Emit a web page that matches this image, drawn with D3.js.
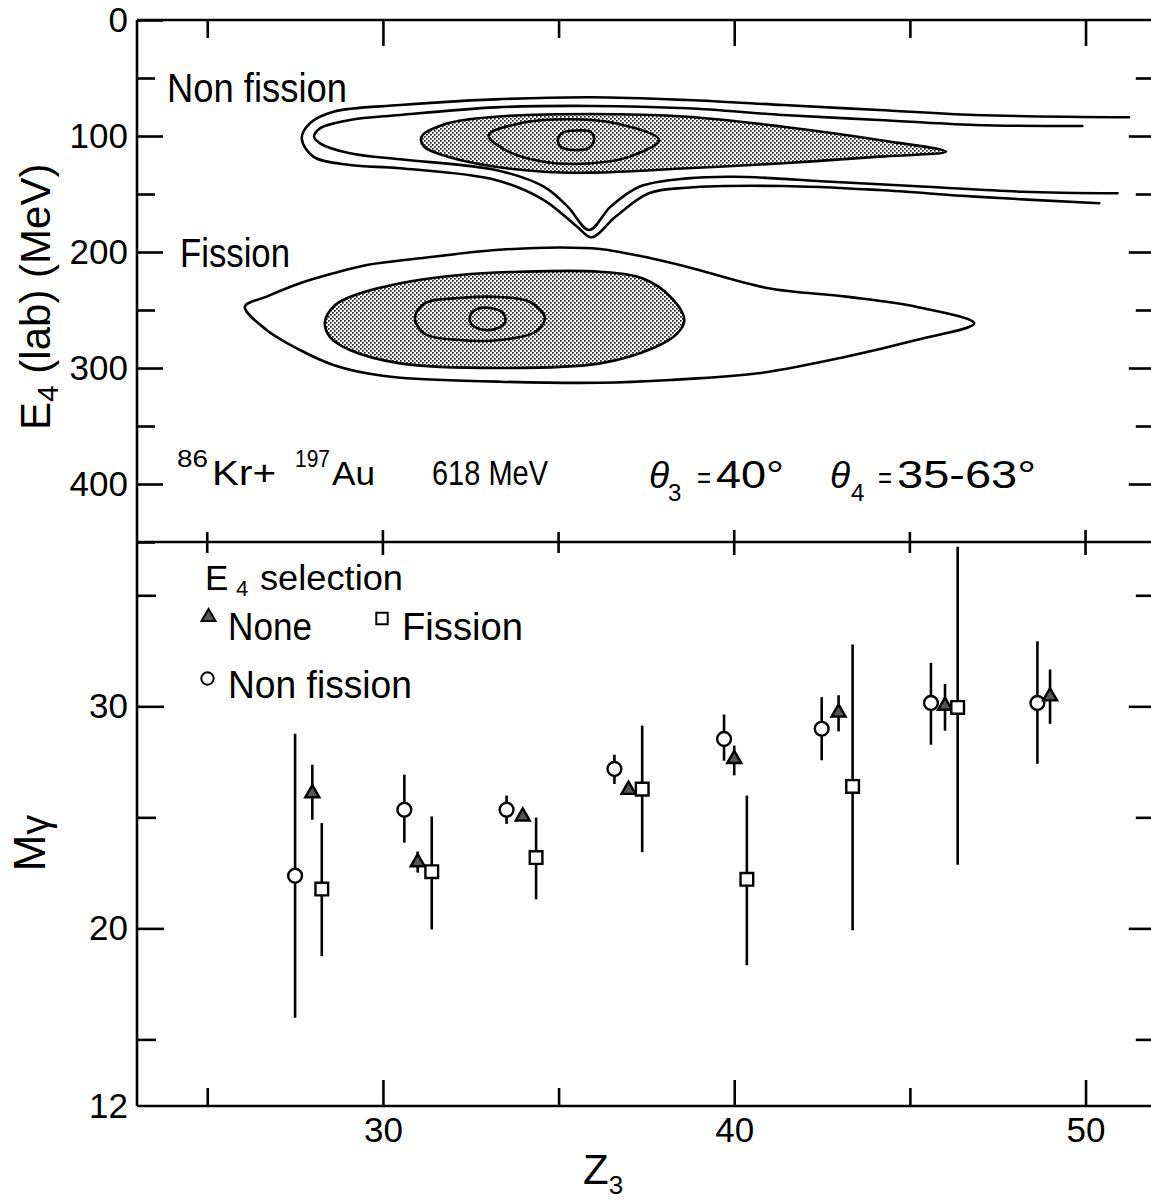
<!DOCTYPE html>
<html>
<head>
<meta charset="utf-8">
<script src="https://cdn.jsdelivr.net/npm/d3@7"></script>
<style>
  body { margin: 0; background: #fff; }
  svg text { font-family: "Liberation Sans", Arial, sans-serif; fill: #000; }
</style>
</head>
<body>
<svg id="chart" width="1151" height="1203"></svg>
<script>
// ---- upper panel: contour lines, points are [Z3, E4 (MeV)] ----
const nfOuter = [[51.24,83.9],[46.85,81.9],[44.12,77.6],[41.39,73.3],[38.67,69.0],[35.94,66.6],[33.21,68.4],[30.49,73.3],[28.59,79.1],[27.92,89.1],[27.69,102.0],[28.02,117.8],[29.06,125.0],[30.49,127.8],[33.21,137.9],[34.58,155.2],[35.53,178.2],[35.94,187.3],[36.62,169.6],[37.57,149.4],[38.66,144.6],[41.39,143.1],[44.12,146.6],[46.85,152.3],[50.39,158.0]];
const nfInner = [[49.91,91.4],[46.85,90.5],[44.12,86.2],[41.39,81.9],[38.67,76.1],[35.94,74.1],[33.21,75.3],[30.49,81.9],[29.06,86.2],[28.21,93.4],[28.04,100.6],[28.21,106.3],[29.06,114.9],[30.49,120.1],[33.21,129.3],[34.58,143.7],[35.26,160.9],[35.87,181.0],[36.48,160.9],[37.30,143.7],[38.66,136.5],[40.02,135.1],[42.76,139.4],[45.48,143.7],[48.21,148.0],[50.91,149.4]];
const nfShade = [[31.10,100.6],[31.85,89.1],[33.21,83.4],[35.94,81.0],[38.67,83.4],[41.39,92.0],[44.12,103.4],[46.03,113.5],[44.12,117.8],[41.39,123.5],[38.67,127.8],[35.94,131.6],[34.58,130.8],[33.21,126.5],[31.85,117.8],[31.17,109.2]];
const nfCore = [[33.01,99.1],[33.89,89.1],[35.26,85.6],[36.62,89.1],[37.86,103.4],[37.03,117.8],[35.94,123.5],[34.58,122.2],[33.49,112.1]];
const nfPeak = [[34.98,103.4],[35.10,97.4],[35.50,95.3],[35.92,96.6],[36.01,103.4],[35.87,110.3],[35.44,112.1],[35.07,109.5]];

const fOuter = [[26.07,247.2],[26.69,238.5],[27.64,227.0],[28.59,218.4],[29.54,211.2],[31.06,205.4],[33.21,198.3],[35.04,196.1],[36.18,197.4],[37.60,205.2],[38.67,212.9],[40.98,231.3],[43.18,238.5],[45.18,247.2],[46.83,261.5],[45.18,275.9],[43.18,290.3],[40.68,304.6],[38.18,310.3],[36.18,312.7],[33.33,311.8],[30.49,308.4],[29.54,304.6],[28.59,297.4],[27.64,284.5],[26.69,267.2]];
const fShade = [[28.35,260.1],[28.64,245.7],[29.06,238.8],[30.49,227.0],[32.19,219.8],[33.90,217.0],[36.18,217.0],[37.38,222.7],[38.18,238.5],[38.58,258.6],[38.38,270.1],[37.68,283.0],[36.18,296.0],[33.33,300.0],[30.49,296.0],[29.06,284.5],[28.49,273.3]];
const fCore = [[30.91,256.9],[31.20,244.0],[32.19,239.7],[33.33,238.8],[34.19,243.1],[34.61,256.9],[34.33,269.0],[33.33,275.9],[32.19,275.9],[31.20,270.7]];
const fPeak = [[32.48,255.2],[32.68,249.1],[33.05,248.3],[33.42,252.6],[33.48,260.3],[33.28,265.5],[32.91,267.2],[32.54,262.9]];

// ---- lower panel: gamma multiplicity, rows are [Z3, M, low, high] ----
const nonFissionPts = [[27.50,22.37,15.97,28.77],[30.61,25.34,23.86,26.92],[33.52,25.34,24.71,25.98],[36.59,27.18,26.50,27.82],[39.71,28.53,27.55,29.63],[42.49,28.99,27.57,30.41],[45.60,30.15,28.27,31.96],[48.63,30.15,27.41,32.93]];
const nonePts = [[27.99,26.09,24.89,27.37],[30.99,22.98,22.51,23.46],[33.98,25.04,25.04,25.04],[36.99,26.24,26.24,26.24],[40.00,27.63,26.89,28.23],[42.97,29.72,28.87,30.50],[46.00,30.03,28.90,31.01],[48.99,30.45,29.21,31.66]];
const fissionPts = [[28.26,21.77,18.75,24.74],[31.39,22.55,19.95,25.04],[34.36,23.19,21.31,24.99],[37.38,26.27,23.43,29.13],[40.36,22.21,18.34,25.98],[43.37,26.39,19.92,32.78],[46.36,29.95,22.86,37.19]];

// ticks
const xMajor = [30, 40, 50], xMinor = [25, 35, 45];
const eMajor = [0, 100, 200, 300, 400], eMinor = [50, 150, 250, 350, 450];
const mMajor = [12, 20, 30], mMinor = [15, 25, 35];

const svg = d3.select("#chart");
const pLeft = 137, pRight = 1155.8, pTop = 20, pMid = 542, pBottom = 1106;
const lw = 2.6;

const x = d3.scaleLinear().domain([23, 52]).range([pLeft, pRight]);
const yE = d3.scaleLinear().domain([0, 450]).range([pTop, pMid]);
const yM = d3.scaleLinear().domain([12, 37.4]).range([pBottom, pMid]);

// stipple pattern for shaded contours
const defs = svg.append("defs");
const pat = defs.append("pattern").attr("id", "stip")
  .attr("patternUnits", "userSpaceOnUse").attr("width", 4).attr("height", 4);
pat.append("rect").attr("width", 4).attr("height", 4).attr("fill", "#fff");
pat.append("rect").attr("x", 0).attr("y", 0).attr("width", 1.7).attr("height", 1.7).attr("fill", "#222");
pat.append("rect").attr("x", 2).attr("y", 2).attr("width", 1.7).attr("height", 1.7).attr("fill", "#222");

// ---- contours ----
const openLine = d3.line().x(d => x(d[0])).y(d => yE(d[1])).curve(d3.curveCatmullRom.alpha(0.5));
const closedLine = d3.line().x(d => x(d[0])).y(d => yE(d[1])).curve(d3.curveCatmullRomClosed.alpha(0.5));

const cg = svg.append("g").attr("fill", "none").attr("stroke", "#000").attr("stroke-width", lw)
  .attr("stroke-linejoin", "round").attr("stroke-linecap", "round");

[nfShade, fShade].forEach(c => {
  cg.append("path").attr("d", closedLine(c)).attr("fill", "url(#stip)");
});
[nfCore, nfPeak, fCore, fPeak].forEach(c => {
  cg.append("path").attr("d", closedLine(c));
});
cg.append("path").attr("d", closedLine(fOuter));
cg.append("path").attr("d", openLine(nfOuter));
cg.append("path").attr("d", openLine(nfInner));

// ---- error bars and markers ----
const eg = svg.append("g").attr("stroke", "#000").attr("stroke-width", lw);
[nonFissionPts, nonePts, fissionPts].forEach(set => {
  eg.selectAll(null).data(set.filter(d => d[3] > d[2])).enter().append("line")
    .attr("x1", d => x(d[0])).attr("x2", d => x(d[0]))
    .attr("y1", d => yM(d[2])).attr("y2", d => yM(d[3]));
});

const sym = {
  circle: d3.symbol(d3.symbolCircle, 150),
  square: d3.symbol(d3.symbolSquare, 160),
  triangle: d3.symbol(d3.symbolTriangle, 85)
};
const fills = { circle: "#fff", square: "#fff", triangle: "#555" };
function drawMarkers(data, kind) {
  svg.append("g").selectAll("path").data(data).enter().append("path")
    .attr("d", sym[kind]())
    .attr("transform", d => `translate(${x(d[0])},${yM(d[1])})`)
    .attr("fill", fills[kind]).attr("stroke", "#000").attr("stroke-width", 2.4);
}
drawMarkers(nonFissionPts, "circle");
drawMarkers(nonePts, "triangle");
drawMarkers(fissionPts, "square");

// ---- frame and axes ----
const frame = svg.append("g").attr("stroke", "#000").attr("stroke-width", lw).attr("fill", "none");
frame.append("line").attr("x1", pLeft).attr("x2", pLeft).attr("y1", pTop).attr("y2", pBottom);
frame.append("line").attr("x1", pLeft).attr("x2", pRight).attr("y1", pTop).attr("y2", pTop);
frame.append("line").attr("x1", pLeft).attr("x2", pRight).attr("y1", pMid).attr("y2", pMid);
frame.append("line").attr("x1", pLeft).attr("x2", pRight).attr("y1", pBottom).attr("y2", pBottom);
frame.append("line").attr("x1", pRight).attr("x2", pRight).attr("y1", pTop).attr("y2", pBottom);

function styleAxis(g) {
  g.select(".domain").remove();
  g.selectAll(".tick line").attr("stroke", "#000").attr("stroke-width", lw);
  g.selectAll(".tick text").attr("font-size", 35).attr("fill", "#000");
  g.attr("font-family", null).attr("font-size", null);
}

// left axes
svg.append("g").attr("transform", `translate(${pLeft},0)`)
  .call(d3.axisLeft(yE).tickValues(eMajor).tickSize(-26).tickPadding(9).tickFormat(d3.format("d"))).call(styleAxis);
svg.append("g").attr("transform", `translate(${pLeft},0)`)
  .call(d3.axisLeft(yE).tickValues(eMinor).tickSize(-18).tickFormat("")).call(styleAxis);
svg.append("g").attr("transform", `translate(${pLeft},0)`)
  .call(d3.axisLeft(yM).tickValues(mMajor.filter(v => v !== 12)).tickSize(-27).tickPadding(9)).call(styleAxis);
svg.append("g").attr("transform", `translate(${pLeft},0)`)
  .call(d3.axisLeft(yM).tickValues([12]).tickSize(0).tickPadding(9)).call(styleAxis);
svg.append("g").attr("transform", `translate(${pLeft},0)`)
  .call(d3.axisLeft(yM).tickValues(mMinor).tickSize(-19).tickFormat("")).call(styleAxis);

// right axes (inward ticks only)
svg.append("g").attr("transform", `translate(${pRight},0)`)
  .call(d3.axisRight(yE).tickValues(eMajor.filter(v => v > 0)).tickSize(-27).tickFormat("")).call(styleAxis);
svg.append("g").attr("transform", `translate(${pRight},0)`)
  .call(d3.axisRight(yE).tickValues(eMinor.filter(v => v < 450)).tickSize(-20).tickFormat("")).call(styleAxis);
svg.append("g").attr("transform", `translate(${pRight},0)`)
  .call(d3.axisRight(yM).tickValues(mMajor.filter(v => v > 12)).tickSize(-27).tickFormat("")).call(styleAxis);
svg.append("g").attr("transform", `translate(${pRight},0)`)
  .call(d3.axisRight(yM).tickValues(mMinor).tickSize(-20).tickFormat("")).call(styleAxis);

// top axis
svg.append("g").attr("transform", `translate(0,${pTop})`)
  .call(d3.axisTop(x).tickValues(xMajor).tickSize(-26).tickFormat("")).call(styleAxis);
svg.append("g").attr("transform", `translate(0,${pTop})`)
  .call(d3.axisTop(x).tickValues(xMinor).tickSize(-18).tickFormat("")).call(styleAxis);

// bottom axis
svg.append("g").attr("transform", `translate(0,${pBottom})`)
  .call(d3.axisBottom(x).tickValues(xMajor).tickSize(-26).tickPadding(11)).call(styleAxis);
svg.append("g").attr("transform", `translate(0,${pBottom})`)
  .call(d3.axisBottom(x).tickValues(xMinor).tickSize(-18).tickFormat("")).call(styleAxis);

// ticks crossing the divider
svg.append("g").selectAll("line").data(xMajor.concat(xMinor)).enter().append("line")
  .attr("x1", d => x(d)).attr("x2", d => x(d))
  .attr("y1", d => pMid - (xMajor.includes(d) ? 12 : 10))
  .attr("y2", d => pMid + (xMajor.includes(d) ? 13 : 11))
  .attr("stroke", "#000").attr("stroke-width", lw);

// ---- text ----
function label(px, py, str, size, len, adj) {
  const t = svg.append("text").attr("x", px).attr("y", py).attr("font-size", size).text(str);
  if (len) t.attr("textLength", len).attr("lengthAdjust", adj || "spacingAndGlyphs");
  return t;
}

// upper panel annotations
label(167, 102, "Non fission", 40, 180);
label(180, 267, "Fission", 40, 110);
label(177, 467, "86", 24, 31);
label(212, 485, "Kr+", 35, 64);
label(295, 467, "197", 24, 35);
label(332, 485, "Au", 34, 43);
label(432, 485, "618 MeV", 35, 116);
label(649, 488, "θ", 37).attr("font-style", "italic");
label(668, 501, "3", 24);
label(697, 488, "=", 30, 14);
label(716, 488, "40°", 39, 68);
label(830, 488, "θ", 37).attr("font-style", "italic");
label(851, 501, "4", 24);
label(878, 488, "=", 30, 14);
label(897, 488, "35-63°", 39, 139);

// legend
label(205, 590, "E", 35);
label(236, 596, "4", 22);
label(260, 590, "selection", 35, 143);
label(228, 640, "None", 39, 84);
label(402, 640, "Fission", 39, 121);
label(228, 698, "Non fission", 39, 184);
svg.append("path").attr("d", sym.triangle()).attr("transform", "translate(208.5,617)")
  .attr("fill", "#555").attr("stroke", "#000").attr("stroke-width", 2);
svg.append("path").attr("d", d3.symbol(d3.symbolSquare, 130)()).attr("transform", "translate(382,618.5)")
  .attr("fill", "#fff").attr("stroke", "#000").attr("stroke-width", 2);
svg.append("path").attr("d", d3.symbol(d3.symbolCircle, 120)()).attr("transform", "translate(207.5,678.5)")
  .attr("fill", "#fff").attr("stroke", "#000").attr("stroke-width", 2);

// axis titles
const yt = svg.append("text").attr("transform", "translate(50,430) rotate(-90)").attr("font-size", 42);
yt.append("tspan").text("E");
yt.append("tspan").attr("font-size", 30).attr("dy", 8).text("4");
yt.append("tspan").attr("dy", -8).text(" (lab) (MeV)");

const mt = svg.append("text").attr("transform", "translate(45,843) rotate(-90)")
  .attr("font-size", 44).attr("text-anchor", "middle");
mt.append("tspan").text("M");
mt.append("tspan").attr("font-size", 40).attr("dy", 4).text("γ");

const zt = svg.append("text").attr("x", 583).attr("y", 1184).attr("font-size", 42);
zt.append("tspan").text("Z");
zt.append("tspan").attr("font-size", 26).attr("dy", 10).text("3");
</script>
</body>
</html>
